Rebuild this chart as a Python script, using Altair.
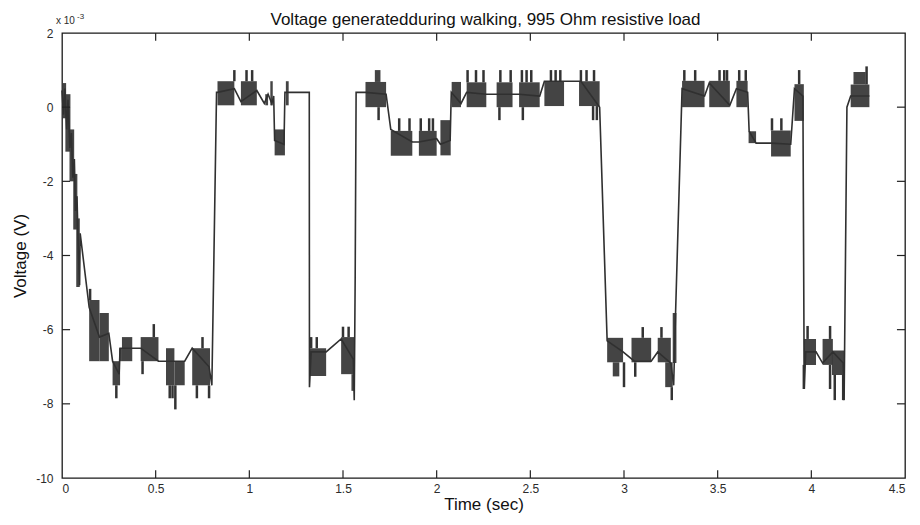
import altair as alt
import pandas as pd

# ---- values (time in s, voltage in units of 1e-3 V) ----
# backbone trace (connected line)
trace = [
    (0.000, 0.45), (0.008, -0.2), (0.015, 0.5), (0.025, -0.6), (0.032, 0.2),
    (0.042, -1.1), (0.050, -0.7), (0.058, -1.9), (0.066, -1.4), (0.072, -2.8),
    (0.080, -2.4), (0.088, -4.0), (0.094, -4.8), (0.097, -3.4), (0.145, -5.4),
    (0.200, -6.2), (0.250, -6.1), (0.270, -6.85), (0.305, -7.2), (0.310, -6.5),
    (0.375, -6.5), (0.420, -6.5), (0.515, -6.85), (0.555, -6.85), (0.655, -6.85),
    (0.695, -6.5), (0.785, -7.0), (0.800, -7.5), (0.825, 0.4), (0.830, 0.4),
    (0.920, 0.5), (0.955, 0.15), (1.040, 0.45), (1.080, 0.1), (1.100, 0.35),
    (1.120, 0.1), (1.130, 0.3), (1.135, -0.9), (1.185, -1.0), (1.190, 0.4),
    (1.210, 0.4), (1.320, 0.4), (1.321, -7.55), (1.330, -6.6), (1.410, -6.6),
    (1.490, -6.25), (1.555, -6.8), (1.560, -7.9), (1.565, -4.6), (1.570, 0.4),
    (1.620, 0.4), (1.730, 0.35), (1.755, -0.6), (1.870, -0.94), (1.905, -0.94),
    (2.000, -0.85), (2.020, -1.0), (2.072, -0.9), (2.078, 0.4), (2.130, 0.1),
    (2.160, 0.4), (2.265, 0.35), (2.320, 0.35), (2.405, 0.35), (2.440, 0.35),
    (2.550, 0.3), (2.575, 0.7), (2.680, 0.7), (2.770, 0.7), (2.870, 0.0),
    (2.910, -6.3), (2.995, -6.6), (3.055, -6.85), (3.145, -6.85), (3.180, -6.6),
    (3.250, -6.9), (3.265, -7.5), (3.275, -5.6), (3.310, 0.5), (3.430, 0.3),
    (3.455, 0.65), (3.565, 0.05), (3.600, 0.5), (3.660, 0.4), (3.668, -0.65),
    (3.705, -0.97), (3.785, -0.97), (3.890, -1.0), (3.910, 0.5), (3.955, 0.3),
    (3.962, -7.6), (3.970, -6.6), (4.025, -6.6), (4.060, -6.9), (4.115, -6.6),
    (4.170, -6.9), (4.175, -7.9), (4.190, 0.0), (4.210, 0.3), (4.310, 0.3),
]

# dense quantisation-noise blocks: (t start, t end, low, high)
blocks = [
    (0.000, 0.022, -0.3, 0.65), (0.018, 0.045, -1.2, 0.35), (0.040, 0.065, -2.0, -0.6),
    (0.060, 0.082, -3.3, -1.8), (0.076, 0.095, -4.85, -3.0),
    (0.145, 0.200, -6.85, -5.2), (0.200, 0.250, -6.85, -5.55), (0.270, 0.310, -7.5, -6.85),
    (0.305, 0.320, -6.85, -6.5), (0.320, 0.375, -6.85, -6.2), (0.420, 0.515, -6.85, -6.2),
    (0.555, 0.600, -7.5, -6.5), (0.600, 0.655, -7.5, -6.85), (0.695, 0.790, -7.5, -6.5),
    (0.830, 0.920, 0.05, 0.7), (0.955, 1.040, 0.05, 0.7), (1.085, 1.100, 0.05, 0.35),
    (1.112, 1.125, 0.05, 0.7), (1.135, 1.190, -1.3, -0.6), (1.195, 1.210, 0.05, 0.7),
    (1.320, 1.410, -7.25, -6.5), (1.490, 1.560, -7.2, -6.2), (1.545, 1.562, -7.65, -7.2),
    (1.620, 1.730, 0.0, 0.68), (1.670, 1.700, 0.68, 1.0), (1.755, 1.870, -1.31, -0.64),
    (1.905, 2.000, -1.31, -0.64), (2.020, 2.075, -1.3, -0.35), (2.080, 2.130, 0.0, 0.68),
    (2.160, 2.265, 0.0, 0.67), (2.320, 2.405, 0.0, 0.67), (2.440, 2.550, 0.0, 0.67),
    (2.575, 2.680, 0.03, 0.7), (2.760, 2.870, 0.03, 0.7), (2.910, 2.995, -6.88, -6.22),
    (2.940, 2.975, -7.26, -6.88), (3.040, 3.145, -6.88, -6.22), (3.180, 3.250, -6.88, -6.22),
    (3.220, 3.260, -7.55, -6.88), (3.260, 3.280, -6.9, -5.55), (3.310, 3.430, 0.0, 0.71),
    (3.455, 3.565, 0.0, 0.71), (3.600, 3.660, 0.0, 0.71), (3.665, 3.705, -0.97, -0.65),
    (3.785, 3.890, -1.33, -0.63), (3.910, 3.960, -0.37, 0.62), (3.960, 4.025, -6.95, -6.25),
    (4.060, 4.115, -6.95, -6.25), (4.110, 4.175, -7.22, -6.56), (4.210, 4.310, 0.0, 0.61),
    (4.225, 4.290, 0.61, 0.95),
]

# isolated spikes: (t, low, high)
spikes = [
    (0.150, -5.2, -4.9), (0.290, -7.85, -7.5), (0.430, -7.2, -6.85), (0.490, -6.2, -5.85),
    (0.575, -7.85, -7.5), (0.590, -7.85, -7.5), (0.605, -8.15, -7.5), (0.720, -7.85, -7.5),
    (0.750, -6.5, -6.2), (0.785, -7.85, -7.5), (0.920, 0.7, 1.0), (0.985, 0.7, 1.0),
    (1.015, 0.7, 1.0), (1.330, -6.5, -6.2), (1.360, -6.5, -6.2), (1.500, -6.2, -5.92),
    (1.530, -6.2, -5.92), (1.690, -0.35, 0.0), (1.800, -0.64, -0.3), (1.855, -0.64, -0.3),
    (1.915, -0.64, -0.3), (1.960, -0.64, -0.3), (1.980, -0.64, -0.3), (2.165, 0.67, 1.0),
    (2.210, 0.67, 1.0), (2.250, 0.67, 1.0), (2.335, -0.35, 0.0), (2.340, 0.67, 1.0),
    (2.395, 0.67, 1.0), (2.455, 0.67, 1.0), (2.460, -0.35, 0.0), (2.480, 0.67, 1.0),
    (2.505, 0.67, 1.0), (2.610, 0.7, 1.0), (2.635, 0.7, 1.0), (2.660, 0.7, 1.0),
    (2.770, 0.7, 1.0), (2.800, 0.7, 1.0), (2.840, 0.7, 1.0), (2.835, -0.35, 0.03),
    (2.855, -0.35, 0.03), (3.000, -7.55, -6.88), (3.060, -7.27, -6.88), (3.100, -6.22, -5.93),
    (3.200, -6.22, -5.93), (3.255, -7.9, -7.55), (3.322, 0.71, 1.0), (3.380, 0.71, 1.0),
    (3.510, 0.71, 1.0), (3.535, 0.71, 1.0), (3.550, 0.71, 1.0), (3.615, 0.71, 1.0),
    (3.650, 0.71, 1.0), (3.790, -0.63, -0.3), (3.840, -0.63, -0.3), (3.935, 0.62, 1.0),
    (3.960, -7.6, -6.95), (3.980, -6.25, -5.9), (4.100, -6.25, -5.9), (4.100, -7.6, -6.95),
    (4.125, -7.9, -7.22), (4.170, -7.9, -7.22), (4.295, 0.61, 1.1),
]

x_ticks = [0, 0.5, 1, 1.5, 2, 2.5, 3, 3.5, 4, 4.5]
y_ticks = [-10, -8, -6, -4, -2, 0, 2]
x_dom = [0, 4.5]
y_dom = [-10, 2]

title = "Voltage generatedduring walking, 995 Ohm resistive load"
FONT = "Liberation Sans"
INK = "#2b2b2b"
W, H = 843, 445

trace_df = pd.DataFrame(trace, columns=["t", "v"])
trace_df["i"] = range(len(trace_df))
blocks_df = pd.DataFrame(blocks, columns=["t0", "t1", "lo", "hi"])
spikes_df = pd.DataFrame(spikes, columns=["t", "lo", "hi"])

xs = alt.Scale(domain=x_dom, nice=False, zero=False)
ys = alt.Scale(domain=y_dom, nice=False, zero=False)
x_axis = alt.Axis(values=x_ticks, labelExpr="datum.value + ''", title="Time (sec)",
                  ticks=False, grid=False, domain=False, labelPadding=5, titlePadding=2)
y_axis = alt.Axis(values=y_ticks, labelExpr="datum.value + ''", title="Voltage (V)",
                  ticks=False, grid=False, domain=False, labelPadding=9, titlePadding=6)

# inward ticks on all four sides (lengths in data units ~ 8px)
tl_v = 0.21
tl_t = 0.043
inner_x = [v for v in x_ticks if v not in x_dom]
inner_y = [v for v in y_ticks if v not in y_dom]
tick_rows = []
for xv in inner_x:
    tick_rows.append({"a": xv, "b": xv, "c": y_dom[0], "d": y_dom[0] + tl_v})
    tick_rows.append({"a": xv, "b": xv, "c": y_dom[1], "d": y_dom[1] - tl_v})
for yv in inner_y:
    tick_rows.append({"a": x_dom[0], "b": x_dom[0] + tl_t, "c": yv, "d": yv})
    tick_rows.append({"a": x_dom[1], "b": x_dom[1] - tl_t, "c": yv, "d": yv})
ticks_df = pd.DataFrame(tick_rows)

rects = alt.Chart(blocks_df).mark_rect(color="#3a3a3a", opacity=0.95).encode(
    x=alt.X("t0:Q", scale=xs, axis=x_axis), x2="t1:Q",
    y=alt.Y("lo:Q", scale=ys, axis=y_axis), y2="hi:Q",
)

spk = alt.Chart(spikes_df).mark_rule(color="#333333", strokeWidth=2.5).encode(
    x=alt.X("t:Q", scale=xs, axis=x_axis),
    y=alt.Y("lo:Q", scale=ys, axis=y_axis), y2="hi:Q",
)

line = alt.Chart(trace_df).mark_line(color="#303030", strokeWidth=1.6).encode(
    x=alt.X("t:Q", scale=xs, axis=x_axis),
    y=alt.Y("v:Q", scale=ys, axis=y_axis),
    order="i:Q",
)

tick_layer = alt.Chart(ticks_df).mark_rule(color="#222222", strokeWidth=1.2).encode(
    x=alt.X("a:Q", scale=xs, axis=x_axis), x2="b:Q",
    y=alt.Y("c:Q", scale=ys, axis=y_axis), y2="d:Q",
)

title_mark = alt.Chart(pd.DataFrame({"s": [title]})).mark_text(
    font=FONT, fontSize=17, color="#111111", align="center", baseline="alphabetic"
).encode(x=alt.value(W / 2 + 2), y=alt.value(-8), text="s:N")

exp_base = alt.Chart(pd.DataFrame({"s": ["x 10"]})).mark_text(
    font=FONT, fontSize=10, color=INK, align="left", baseline="middle"
).encode(x=alt.value(-6), y=alt.value(-12), text="s:N")
exp_sup = alt.Chart(pd.DataFrame({"s": ["-3"]})).mark_text(
    font=FONT, fontSize=8, color=INK, align="left", baseline="middle"
).encode(x=alt.value(15), y=alt.value(-16), text="s:N")

chart = alt.layer(rects, spk, line, tick_layer, title_mark, exp_base, exp_sup).properties(
    width=W, height=H,
    autosize=alt.AutoSizeParams(type="none"),
    padding={"left": 54, "top": 25, "right": 7, "bottom": 39},
).configure_view(
    stroke="#1a1a1a", strokeWidth=1.3
).configure_axis(
    labelFont=FONT, labelFontSize=12, labelColor=INK,
    titleFont=FONT, titleFontSize=17, titleFontWeight="normal", titleColor="#111111",
)

chart.save("out.html", embed_options={"renderer": "svg", "actions": False})
